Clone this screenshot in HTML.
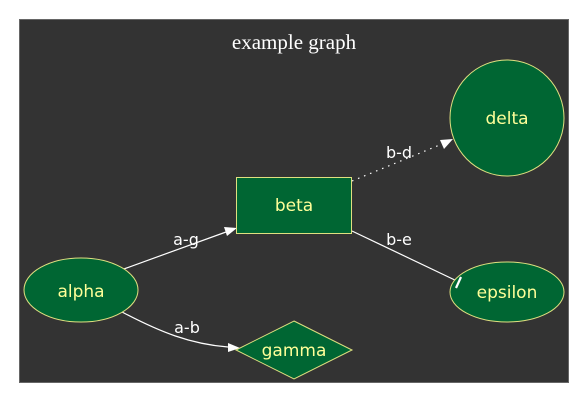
<!DOCTYPE html>
<html><head><style>
html,body{margin:0;padding:0;background:#fff;}
svg{display:block;}
text{font-family:"DejaVu Sans","Liberation Sans",sans-serif;}
</style></head><body>
<svg width="588" height="403" viewBox="0 0 588 403" xmlns="http://www.w3.org/2000/svg">
<rect x="19.5" y="19.5" width="549" height="363" fill="#333333" stroke="#666" stroke-width="1"/>
<text x="294" y="49" text-anchor="middle" fill="#fff" font-size="21" style="font-family:'Liberation Serif',serif">example graph</text>
<line x1="121" y1="270" x2="226" y2="232" stroke="#fff" stroke-width="1.2"/>
<polygon points="237,228 224,227 227,236" fill="#fff"/>
<text x="186" y="245" fill="#fff" font-size="16" text-anchor="middle">a-g</text>
<line x1="352" y1="181" x2="442" y2="144" stroke="#fff" stroke-width="1.2" stroke-dasharray="1.5,5"/>
<polygon points="453,139 440,140 444,149" fill="#fff"/>
<text x="399" y="158" fill="#fff" font-size="16" text-anchor="middle">b-d</text>
<line x1="352" y1="231" x2="459" y2="282" stroke="#fff" stroke-width="1.2"/>
<text x="399" y="245" fill="#fff" font-size="16" text-anchor="middle">b-e</text>
<path d="M122,312 C160,332 190,344 228,347" fill="none" stroke="#fff" stroke-width="1.2"/>
<polygon points="240,348 228,343 228,352" fill="#fff"/>
<text x="187" y="333" fill="#fff" font-size="16" text-anchor="middle">a-b</text>
<ellipse cx="81" cy="290" rx="57" ry="32" fill="#006633" stroke="#e0e080"/>
<text x="81" y="297" fill="#ffff99" font-size="17" text-anchor="middle">alpha</text>
<rect x="236.5" y="177.5" width="115" height="56" fill="#006633" stroke="#e0e080"/>
<text x="294" y="211" fill="#ffff99" font-size="17" text-anchor="middle">beta</text>
<ellipse cx="507" cy="118" rx="57" ry="58" fill="#006633" stroke="#e0e080"/>
<text x="507" y="124" fill="#ffff99" font-size="17" text-anchor="middle">delta</text>
<ellipse cx="507" cy="292" rx="57" ry="30" fill="#006633" stroke="#e0e080"/>
<text x="507" y="298" fill="#ffff99" font-size="17" text-anchor="middle">epsilon</text>
<line x1="456" y1="288" x2="461" y2="277" stroke="#fff" stroke-width="2.2"/>
<polygon points="294,321 352,350 294,379 236,350" fill="#006633" stroke="#e0e080"/>
<text x="294" y="356" fill="#ffff99" font-size="17" text-anchor="middle">gamma</text>
</svg>
</body></html>
